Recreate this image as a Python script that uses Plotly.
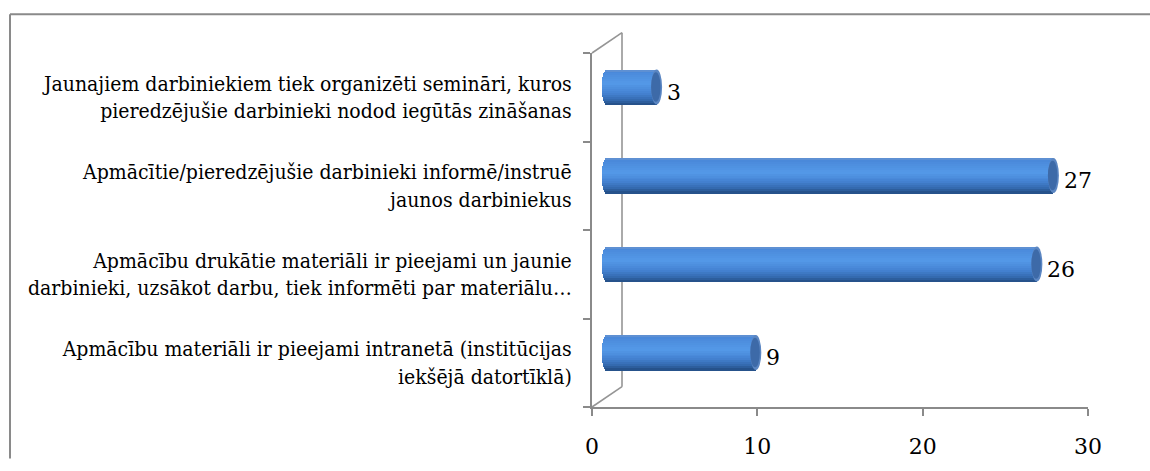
import numpy as np
import plotly.graph_objects as go

# Survey answers (bottom to top as drawn on the category axis)
categories = [
    "Apmācību materiāli ir pieejami intranetā (institūcijas<br>iekšējā datortīklā)",
    "Apmācību drukātie materiāli ir pieejami un jaunie<br>darbinieki, uzsākot darbu, tiek informēti par materiālu…",
    "Apmācītie/pieredzējušie darbinieki informē/instruē<br>jaunos darbiniekus",
    "Jaunajiem darbiniekiem tiek organizēti semināri, kuros<br>pieredzējušie darbinieki nodod iegūtās zināšanas",
]
counts = [9, 26, 27, 3]
x_ticks = [0, 10, 20, 30]

LABEL_FONT = "DejaVu Serif Condensed, DejaVu Serif"
NUM_FONT = "DejaVu Serif"

# Figure geometry (pixels)
W, H = 1150, 471
PL, PR, PT, PB = 592, 1088, 53, 418
X_MAX = 30
px_x = (PR - PL) / X_MAX            # pixels per unit on the value axis
px_y = (PB - PT) / len(categories)  # pixels per category

WALL_DX, WALL_DY = 30, 21           # depth of the 3-D back wall
bar_dx = (WALL_DX / 2) / px_x       # bars sit halfway into the depth
bar_dy = (WALL_DY / 2) / px_y
bar_h = 36 / px_y
cap_rx = 5.5                        # end-cap half width in pixels

ypos = list(range(len(categories)))

# Vertical shading profile of a cylinder, top -> bottom
stops = [(0.0, (104, 148, 208)), (0.08, (74, 137, 218)), (0.4, (84, 153, 232)),
         (0.68, (68, 130, 210)), (0.86, (52, 106, 175)), (1.0, (34, 76, 130))]


def shade(t):
    for (t0, c0), (t1, c1) in zip(stops[:-1], stops[1:]):
        if t <= t1:
            f = (t - t0) / (t1 - t0)
            return "rgb(%d,%d,%d)" % tuple(round(a + (b - a) * f) for a, b in zip(c0, c1))
    return "rgb(%d,%d,%d)" % stops[-1][1]


fig = go.Figure()

n_strips = 18
for k in range(n_strips):
    t = (k + 0.5) / n_strips
    # rounded left end of the cylinder
    start = bar_dx - (cap_rx / px_x) * np.sqrt(max(0.0, 1 - (2 * t - 1) ** 2))
    fig.add_trace(go.Bar(
        y=ypos,
        x=[v + bar_dx - start for v in counts],
        base=start,
        orientation="h",
        width=bar_h / n_strips,
        offset=bar_dy + bar_h / 2 - (k + 1) * bar_h / n_strips,
        marker=dict(color=shade(t), line=dict(width=0)),
        hoverinfo="skip",
        showlegend=False,
    ))

shapes = []
# outer frame (only its top and left edges fall inside the page)
fx0 = (10 - PL) / (PR - PL)
fx1 = (W - PL) / (PR - PL)
fy1 = (PB - 13) / (PB - PT)
for x0, y0, x1, y1 in [(fx0, fy1, fx1, fy1), (fx0, -(H - PB) / (PB - PT), fx0, fy1)]:
    shapes.append(dict(type="line", xref="paper", yref="paper",
                       x0=x0, y0=y0, x1=x1, y1=y1,
                       line=dict(color="#8a8a8a", width=2), layer="below"))
# back wall and floor edges of the 3-D box
wx = WALL_DX / (PR - PL)
wy = WALL_DY / (PB - PT)
for x0, y0, x1, y1 in [(wx, wy, wx, 1 + wy), (0, 1, wx, 1 + wy), (0, 0, wx, wy)]:
    shapes.append(dict(type="line", xref="paper", yref="paper",
                       x0=x0, y0=y0, x1=x1, y1=y1,
                       line=dict(color="#959595", width=1.6), layer="below"))

# end caps of the cylinders
for y, v in zip(ypos, counts):
    yc = y + bar_dy
    shapes.append(dict(type="circle", xref="x", yref="y", xsizemode="pixel",
                       xanchor=v + bar_dx, x0=-cap_rx, x1=cap_rx,
                       y0=yc - bar_h / 2, y1=yc + bar_h / 2,
                       fillcolor="#5b86c2", line=dict(width=0)))
    shapes.append(dict(type="circle", xref="x", yref="y", xsizemode="pixel",
                       xanchor=v + bar_dx, x0=-cap_rx, x1=cap_rx - 1.5,
                       y0=yc - bar_h / 2 + 0.03, y1=yc + bar_h / 2 - 0.03,
                       fillcolor="#3d6aa8", line=dict(width=0)))

annotations = []
for y, v in zip(ypos, counts):
    annotations.append(dict(x=v + bar_dx, y=y, xref="x", yref="y", text=str(v),
                            showarrow=False, xanchor="left", yanchor="middle",
                            xshift=cap_rx + 3, yshift=5,
                            font=dict(family=NUM_FONT, size=22, color="black")))

fig.update_layout(
    width=W, height=H,
    margin=dict(l=PL, r=W - PR, t=PT, b=H - PB, pad=0),
    paper_bgcolor="white", plot_bgcolor="rgba(0,0,0,0)",
    barmode="overlay", bargap=0,
    shapes=shapes, annotations=annotations,
    showlegend=False,
    xaxis=dict(range=[0, X_MAX], tickvals=x_ticks, showgrid=False, zeroline=False,
               showline=True, linecolor="#8a8a8a", linewidth=2,
               ticks="outside", ticklen=7, tickcolor="#8a8a8a", tickwidth=2,
               ticklabelstandoff=12,
               tickfont=dict(family=NUM_FONT, size=22, color="black")),
    yaxis=dict(range=[-0.5, len(categories) - 0.5], tickvals=ypos, ticktext=categories,
               showgrid=False, zeroline=False, ticks="",
               showline=True, linecolor="#8a8a8a", linewidth=2,
               ticklabelstandoff=14,
               minor=dict(tickvals=[p - 0.5 for p in ypos] + [len(categories) - 0.5],
                          ticks="outside", ticklen=7, tickcolor="#8a8a8a", tickwidth=2),
               tickfont=dict(family=LABEL_FONT, size=21, color="black")),
)

fig.write_html("out.html")
